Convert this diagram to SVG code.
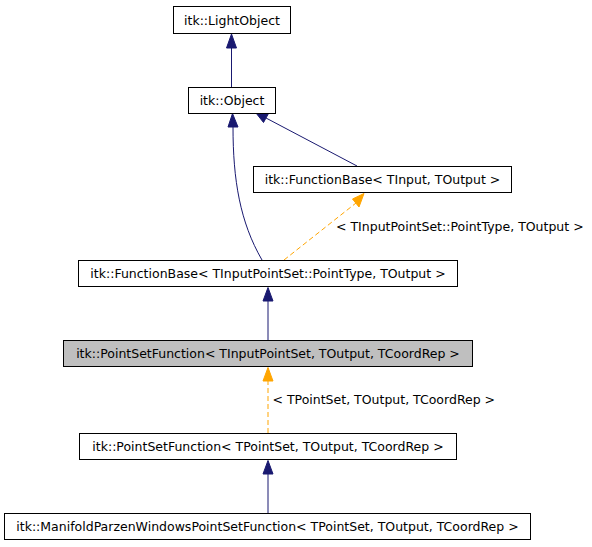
<svg xmlns="http://www.w3.org/2000/svg" width="592" height="547" viewBox="0 0 592 547">
<style>
.box{fill:#ffffff;stroke:#000000;stroke-width:1}
.cur{fill:#bfbfbf;stroke:#000000;stroke-width:1}
text{font-family:"DejaVu Sans","Liberation Sans",sans-serif;font-size:12.5px;fill:#000000}
.lbl{text-anchor:middle}
.inh{fill:none;stroke:#191970;stroke-width:1}
.tpl{fill:none;stroke:#ffa500;stroke-width:1;stroke-dasharray:5,3}
.hb{fill:#191970;stroke:#191970;stroke-width:1}
.ho{fill:#ffa500;stroke:#ffa500;stroke-width:1}
</style>
<rect width="592" height="547" fill="#ffffff"/>
<g id="connectors">
<path class="inh" d="M231.5,87 L231.5,47"/>
<path class="hb" d="M226.5,48 L236.5,48 L231.5,34 Z"/>
<path class="inh" d="M357,166 L266,118"/>
<path class="hb" d="M263.5,122.5 L268.5,113.5 L256,113 Z"/>
<path class="inh" d="M262,260 C240,222 233,180 233,127"/>
<path class="hb" d="M228,127 L238,127 L232.5,113.5 Z"/>
<path class="tpl" d="M284,260 L356,203"/>
<path class="ho" d="M352.5,199 L359,207 L364,193.5 Z"/>
<path class="inh" d="M268,340 L268,300"/>
<path class="hb" d="M263,301 L273,301 L268,287.5 Z"/>
<path class="tpl" d="M268,433 L268,381"/>
<path class="ho" d="M263,381 L273,381 L268,367.5 Z"/>
<path class="inh" d="M268,513 L268,474"/>
<path class="hb" d="M263,474 L273,474 L268,460.5 Z"/>
<text x="336" y="231">&lt; TInputPointSet::PointType, TOutput &gt;</text>
<text x="272.5" y="404">&lt; TPointSet, TOutput, TCoordRep &gt;</text>
</g>
<g id="node-lightobject">
<rect class="box" x="173.5" y="6.5" width="117" height="27"/>
<text class="lbl" x="232" y="24.5">itk::LightObject</text>
</g>
<g id="node-object">
<rect class="box" x="188.5" y="87.5" width="87" height="26"/>
<text class="lbl" x="232" y="105">itk::Object</text>
</g>
<g id="node-functionbase-tinput">
<rect class="box" x="253.5" y="166.5" width="258" height="26"/>
<text class="lbl" x="382.5" y="184">itk::FunctionBase&lt; TInput, TOutput &gt;</text>
</g>
<g id="node-functionbase-pointtype">
<rect class="box" x="78.5" y="260.5" width="379" height="26"/>
<text class="lbl" x="268" y="278">itk::FunctionBase&lt; TInputPointSet::PointType, TOutput &gt;</text>
</g>
<g id="node-pointsetfunction-current">
<rect class="cur" x="63.5" y="340.5" width="409" height="26"/>
<text class="lbl" x="268" y="358">itk::PointSetFunction&lt; TInputPointSet, TOutput, TCoordRep &gt;</text>
</g>
<g id="node-pointsetfunction-tpointset">
<rect class="box" x="79.5" y="433.5" width="377" height="26"/>
<text class="lbl" x="268" y="451">itk::PointSetFunction&lt; TPointSet, TOutput, TCoordRep &gt;</text>
</g>
<g id="node-manifold">
<rect class="box" x="4.5" y="513.5" width="526" height="26"/>
<text class="lbl" x="267.5" y="531">itk::ManifoldParzenWindowsPointSetFunction&lt; TPointSet, TOutput, TCoordRep &gt;</text>
</g>
</svg>
